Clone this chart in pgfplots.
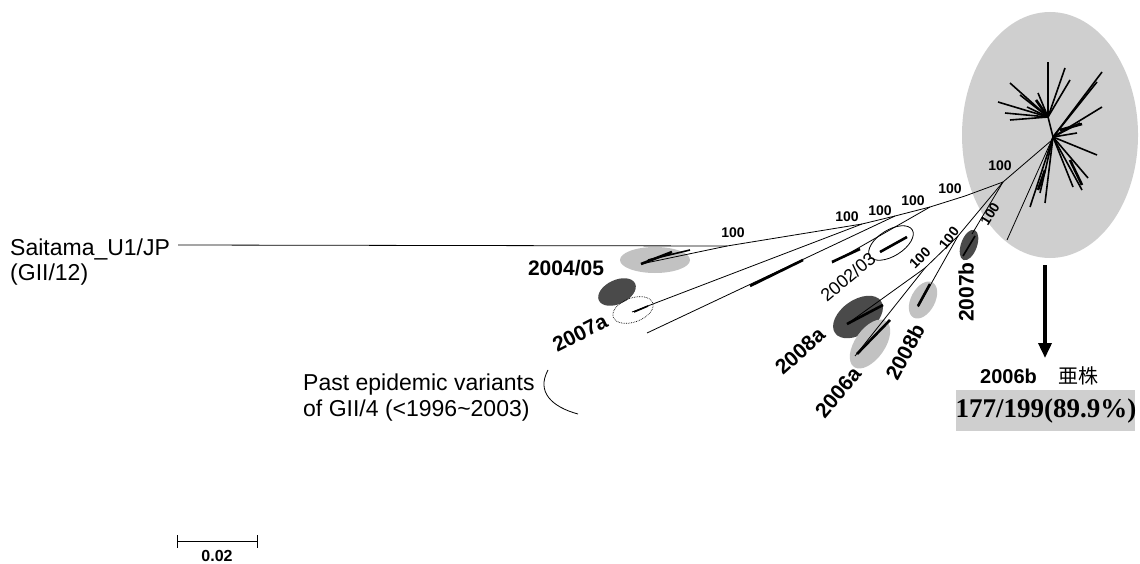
\documentclass[border=0pt]{standalone}
\usepackage{pgfplots}
\pgfplotsset{compat=1.18}
\usetikzlibrary{arrows.meta}
\usepackage{fontspec}
\setmainfont{Liberation Sans}
\newfontfamily\serifb{Liberation Serif}
\newfontfamily\cjk{Noto Sans CJK JP}
\definecolor{darkell}{HTML}{4A4A4A}
\definecolor{lightell}{HTML}{C2C2C2}
\definecolor{bigell}{HTML}{CFCFCF}
\newcommand{\fs}[1]{\fontsize{#1bp}{#1bp}\selectfont}
\tikzset{br/.style={black,line width=0.8bp,no markers},
         lf/.style={black,line width=1.6bp,no markers},
         tf/.style={black,line width=2.6bp,no markers},
         hund/.style={font=\fs{14}\bfseries,inner sep=0pt}}
\begin{document}
\begin{tikzpicture}
\begin{axis}[width=1140bp,height=564bp,scale only axis,hide axis,
  xmin=0,xmax=1140,ymin=0,ymax=564,y dir=reverse,clip=false]
\path (axis cs:0,0) rectangle (axis cs:1140,564);
% highlight shapes
\fill[bigell] (axis cs:1050,135) ellipse [x radius=88bp, y radius=123bp];
\fill[lightell] (axis cs:655,260) ellipse [x radius=35bp, y radius=13bp];
\fill[darkell, rotate around={25:(axis cs:617,292)}] (axis cs:617,292) ellipse [x radius=20bp, y radius=12bp];
\draw[black,line width=0.7bp,densely dotted, rotate around={20:(axis cs:633,310)}] (axis cs:633,310) ellipse [x radius=21bp, y radius=12bp];
\draw[black,line width=0.8bp, rotate around={32:(axis cs:891,243)}] (axis cs:891,243) ellipse [x radius=25bp, y radius=13bp];
\fill[darkell, rotate around={35:(axis cs:858,317)}] (axis cs:858,317) ellipse [x radius=28bp, y radius=17bp];
\fill[lightell, rotate around={55:(axis cs:870,344)}] (axis cs:870,344) ellipse [x radius=28bp, y radius=15bp];
\fill[lightell, rotate around={62:(axis cs:923,300)}] (axis cs:923,300) ellipse [x radius=20bp, y radius=12bp];
\fill[darkell, rotate around={70:(axis cs:969,245)}] (axis cs:969,245) ellipse [x radius=16bp, y radius=8bp];
\fill[bigell] (axis cs:956,390) rectangle (axis cs:1135,431);
% branches
\addplot[br] coordinates {(178,245) (727,246)};
\addplot[br] coordinates {(727,246) (862,224) (895,216) (930,207) (965,196) (1003,182) (1052,140)};
\addplot[br] coordinates {(727,246) (641,264)};
\addplot[br] coordinates {(862,224) (632,312)};
\addplot[br] coordinates {(895,216) (647,333)};
\addplot[br] coordinates {(930,207) (832,263)};
\addplot[br] coordinates {(1003,182) (972,234)};
\addplot[br] coordinates {(1003,182) (958,236)};
\addplot[br] coordinates {(958,236) (918,307)};
\addplot[br] coordinates {(958,236) (925,268)};
\addplot[br] coordinates {(925,268) (847,324)};
\addplot[br] coordinates {(925,268) (855,356)};
% tufts
\addplot[tf] coordinates {(641,264) (672,252)};
\addplot[lf] coordinates {(648,260) (690,250)};
\addplot[lf] coordinates {(634,312) (648,306)};
\addplot[tf] coordinates {(750,286) (803,260)};
\addplot[tf] coordinates {(832,262) (860,249)};
\addplot[tf] coordinates {(880,252) (907,237)};
\addplot[tf] coordinates {(847,324) (883,305)};
\addplot[tf] coordinates {(857,354) (890,320)};
\addplot[tf] coordinates {(918,306) (930,284)};
\addplot[lf] coordinates {(963,256) (975,236)};
% big cluster
\addplot[lf] coordinates {(1048,117) (1053,137)};
\addplot[lf] coordinates {(1048,117) (998,102)};
\addplot[lf] coordinates {(1048,117) (1010,83)};
\addplot[lf] coordinates {(1048,117) (1048,62)};
\addplot[lf] coordinates {(1048,117) (1065,68)};
\addplot[lf] coordinates {(1048,117) (1070,80)};
\addplot[lf] coordinates {(1048,117) (1038,93)};
\addplot[lf] coordinates {(1048,117) (1005,113)};
\addplot[lf] coordinates {(1048,117) (1010,120)};
\addplot[lf] coordinates {(1048,117) (1027,107)};
\addplot[lf] coordinates {(1048,117) (1020,95)};
\addplot[tf] coordinates {(1048,117) (1036,100)};
\addplot[lf] coordinates {(1053,137) (1102,72)};
\addplot[lf] coordinates {(1053,137) (1097,82)};
\addplot[lf] coordinates {(1053,137) (1102,107)};
\addplot[lf] coordinates {(1053,137) (1080,123)};
\addplot[lf] coordinates {(1053,137) (1077,133)};
\addplot[lf] coordinates {(1053,137) (1097,155)};
\addplot[lf] coordinates {(1053,137) (1082,190)};
\addplot[lf] coordinates {(1053,137) (1073,187)};
\addplot[lf] coordinates {(1053,137) (1045,203)};
\addplot[lf] coordinates {(1053,137) (1030,207)};
\addplot[br] coordinates {(1053,137) (1007,240)};
\addplot[lf] coordinates {(1053,137) (1040,193)};
\addplot[lf] coordinates {(1053,137) (1088,178)};
\addplot[tf] coordinates {(1060,130) (1082,124)};
\addplot[tf] coordinates {(1070,160) (1082,185)};
\addplot[tf] coordinates {(1038,190) (1045,170)};
% arrow
\addplot[black,line width=3.5bp,no markers,-{Triangle[length=15bp,width=13bp]}] coordinates {(1045,265) (1045,358)};
% scale bar
\addplot[br] coordinates {(177,541) (257,541)};
\addplot[br] coordinates {(177,535) (177,548)};
\addplot[br] coordinates {(257,535) (257,548)};
% arc
\draw[black,line width=0.8bp] (axis cs:548,370) .. controls (axis cs:536,392) and (axis cs:552,407) .. (axis cs:578,414);
% texts
\node[anchor=base west,font=\fs{23},inner sep=0pt] at (axis cs:10,255) {Saitama\_U1/JP};
\node[anchor=base west,font=\fs{23},inner sep=0pt] at (axis cs:10,280) {(GII/12)};
\node[anchor=base west,font=\fs{23},inner sep=0pt] at (axis cs:303,390) {Past epidemic variants};
\node[anchor=base west,font=\fs{23},inner sep=0pt] at (axis cs:303,416) {of GII/4 (<1996\textasciitilde2003)};
\node[font=\fs{21}\bfseries,inner sep=0pt] at (axis cs:566,268) {2004/05};
\node[font=\fs{21}\bfseries,inner sep=0pt,rotate=27] at (axis cs:580,333) {2007a};
\node[font=\fs{18},inner sep=0pt,rotate=40] at (axis cs:848,277) {2002/03};
\node[font=\fs{21}\bfseries,inner sep=0pt,rotate=42] at (axis cs:800,351) {2008a};
\node[font=\fs{21}\bfseries,inner sep=0pt,rotate=50] at (axis cs:838,392) {2006a};
\node[font=\fs{21}\bfseries,inner sep=0pt,rotate=62] at (axis cs:905,352) {2008b};
\node[font=\fs{21}\bfseries,inner sep=0pt,rotate=90] at (axis cs:966,292) {2007b};
\node[hund] at (axis cs:733,233) {100};
\node[hund] at (axis cs:847,217) {100};
\node[hund] at (axis cs:880,211) {100};
\node[hund] at (axis cs:913,201) {100};
\node[hund] at (axis cs:950,189) {100};
\node[hund] at (axis cs:1000,166) {100};
\node[hund,rotate=58] at (axis cs:990,214) {100};
\node[hund,rotate=52] at (axis cs:949,238) {100};
\node[hund,rotate=45] at (axis cs:920,258) {100};
\node[font=\fs{20}\bfseries,anchor=base west,inner sep=0pt] at (axis cs:980,383) {2006b};
\node[font=\fs{20}\cjk,anchor=base west,inner sep=0pt] at (axis cs:1058,383) {亜株};
\node[font=\fs{27}\serifb\bfseries,inner sep=0pt] at (axis cs:1046,411) {177/199(89.9\%)};
\node[font=\fs{16}\bfseries,inner sep=0pt] at (axis cs:217,556) {0.02};
\end{axis}
\end{tikzpicture}
\end{document}
